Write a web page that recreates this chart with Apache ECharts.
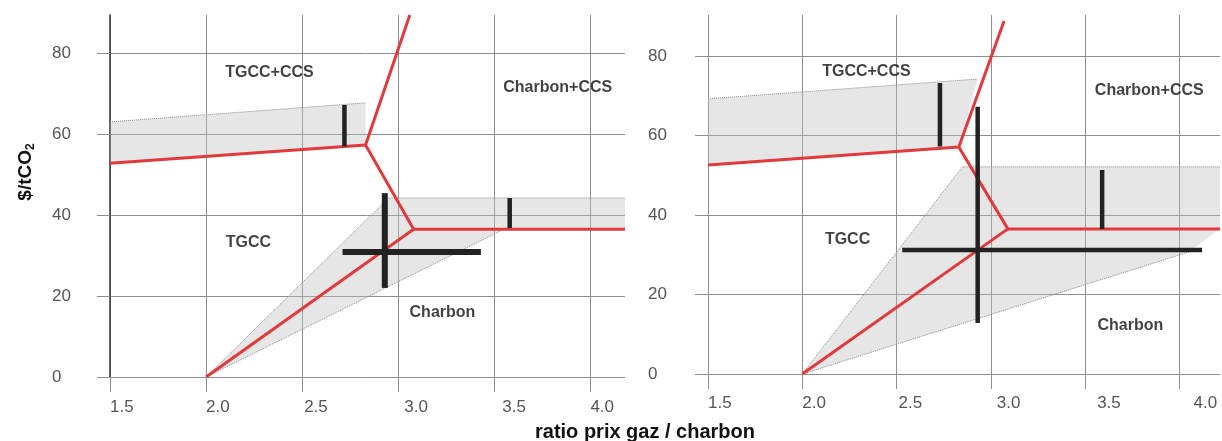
<!DOCTYPE html>
<html><head><meta charset="utf-8">
<script src="https://cdn.jsdelivr.net/npm/echarts@6/dist/echarts.min.js"></script>
<style>html,body{margin:0;padding:0;background:#fff}#c{width:1222px;height:441px}</style>
</head><body><div id="c"></div><script>
// ---- ticks ----
const xTicks = [1.5, 2.0, 2.5, 3.0, 3.5, 4.0];
const xTickLabels = ['1.5', '2.0', '2.5', '3.0', '3.5', '4.0'];
const yTicks = [0, 20, 40, 60, 80];
const yTickLabels = ['0', '20', '40', '60', '80'];

// ---- left panel ----
const leftRedA = [[1.5, 52.8], [2.83, 57.3], [3.06, 89.4]];
const leftRedB = [[2.83, 57.3], [3.08, 36.5], [4.18, 36.5]];
const leftRedC = [[2.0, 0], [3.08, 36.5]];
const leftBandUpper = [[1.5, 52.8], [2.83, 57.3], [2.83, 67.7], [1.5, 63.0]];
const leftBandLower = [[2.0, 0], [3.55, 36.5], [4.18, 36.5], [4.18, 44.2], [2.95, 44.2]];
const leftEdgeUpper = [[1.5, 63.0], [2.83, 67.7]];
const leftEdgeLower = [[3.55, 36.5], [2.0, 0], [2.95, 44.2], [4.18, 44.2]];
const leftBarsThin = [[[2.72, 56.9], [2.72, 67.2]], [[3.58, 36.8], [3.58, 44.2]]];
const leftBarsThick = [[[2.93, 22], [2.93, 45.4]], [[2.71, 30.9], [3.43, 30.9]]];
const leftLabels = [['TGCC+CCS', 2.33, 75.1], ['Charbon+CCS', 3.83, 71.4], ['TGCC', 2.22, 33.3], ['Charbon', 3.23, 15.8]];

// ---- right panel ----
const rightRedA = [[1.5, 52.6], [2.83, 57.1], [3.07, 88.8]];
const rightRedB = [[2.83, 57.1], [3.09, 36.5], [4.215, 36.5]];
const rightRedC = [[2.0, 0], [3.09, 36.5]];
const rightBandUpper = [[1.5, 52.6], [2.83, 57.1], [2.93, 74.2], [1.5, 69.2]];
const rightBandLower = [[2.0, 0], [4.05, 30.7], [4.215, 36.5], [4.215, 52.1], [2.85, 52.1]];
const rightEdgeUpper = [[1.5, 69.2], [2.93, 74.2]];
const rightEdgeLower = [[4.05, 30.7], [2.0, 0], [2.85, 52.1], [4.215, 52.1]];
const rightBarsThin = [[[2.73, 57.2], [2.73, 73.2]], [[3.59, 36.5], [3.59, 51.3]], [[2.93, 12.8], [2.93, 67.2]], [[2.53, 31.2], [4.12, 31.2]]];
const rightLabels = [['TGCC+CCS', 2.34, 76.0], ['Charbon+CCS', 3.84, 71.2], ['TGCC', 2.24, 33.7], ['Charbon', 3.74, 12.3]];

// ---- styles ----
const gridColor = '#8f8f8f';
const red = '#e03a3c';
const bandFill = 'rgba(190,190,190,0.38)';
const leftXOff = [0, 0, 2, 6, 8, 0];
const rightXOff = [0, 0, 2, 6, 12, 14];

function xAxisFor(gi, max, margin, offs) {
  const rich = {};
  offs.forEach((o, i) => { rich['o' + i] = { padding: [0, 0, 0, o], fontSize: 17, color: '#555', fontFamily: 'Liberation Sans, Arial, sans-serif' }; });
  return {
    gridIndex: gi, type: 'value', min: 1.5, max: max,
    axisLine: { show: false },
    axisTick: { show: true, customValues: xTicks, length: 15, lineStyle: { color: gridColor } },
    axisLabel: {
      customValues: xTicks, align: 'left', margin: margin, rich: rich,
      formatter: function (v) {
        let i = xTicks.findIndex(t => Math.abs(t - v) < 1e-6);
        if (i < 0) return '';
        return '{o' + i + '|' + xTickLabels[i] + '}';
      }
    },
    splitLine: { show: true, lineStyle: { color: gridColor, width: 1 } }
  };
}
function yAxisFor(gi, max, margin, showLine) {
  return {
    gridIndex: gi, type: 'value', min: 0, max: max,
    axisLine: { show: showLine, onZero: false, lineStyle: { color: '#333', width: 1.5 } },
    axisTick: { show: true, customValues: yTicks, length: 13, lineStyle: { color: gridColor } },
    axisLabel: {
      customValues: yTicks, align: 'left', margin: margin, fontSize: 17, color: '#555',
      fontFamily: 'Liberation Sans, Arial, sans-serif',
      formatter: function (v) { let i = yTicks.indexOf(v); return i < 0 ? '' : yTickLabels[i]; }
    },
    splitLine: { show: true, lineStyle: { color: gridColor, width: 1 } }
  };
}
function poly(pts, gi) {
  return {
    type: 'custom', xAxisIndex: gi, yAxisIndex: gi, silent: true, z: 1,
    data: [pts[0]],
    renderItem: function (params, api) {
      return { type: 'polygon', shape: { points: pts.map(p => api.coord(p)) }, style: { fill: bandFill } };
    }
  };
}
function line(pts, gi, color, width, type, z) {
  return {
    type: 'line', xAxisIndex: gi, yAxisIndex: gi, data: pts, symbol: 'none', silent: true, z: z,
    lineStyle: { color: color, width: width, type: type || 'solid', cap: 'butt' }
  };
}
function labels(arr, gi) {
  return {
    type: 'scatter', xAxisIndex: gi, yAxisIndex: gi, symbolSize: 1, silent: true, z: 10,
    itemStyle: { color: 'transparent' },
    data: arr.map(l => ({ value: [l[1], l[2]], name: l[0] })),
    label: { show: true, position: 'inside', formatter: '{b}', fontWeight: 'bold', fontSize: 16, color: '#111', fontFamily: 'Liberation Sans, Arial, sans-serif' }
  };
}

const series = [];
// left
series.push(poly(leftBandUpper, 0), poly(leftBandLower, 0));
series.push(line(leftEdgeUpper, 0, '#888', 1, 'dotted', 2), line(leftEdgeLower, 0, '#888', 1, 'dotted', 2));
series.push(line(leftRedA, 0, red, 3, 'solid', 4), line(leftRedB, 0, red, 3, 'solid', 4), line(leftRedC, 0, red, 3, 'solid', 4));
leftBarsThin.forEach(b => series.push(line(b, 0, '#222', 4.5, 'solid', 5)));
leftBarsThick.forEach(b => series.push(line(b, 0, '#222', 6, 'solid', 5)));
series.push(labels(leftLabels, 0));
// right
series.push(poly(rightBandUpper, 1), poly(rightBandLower, 1));
series.push(line(rightEdgeUpper, 1, '#888', 1, 'dotted', 2), line(rightEdgeLower, 1, '#888', 1, 'dotted', 2));
series.push(line(rightRedA, 1, red, 3, 'solid', 4), line(rightRedB, 1, red, 3, 'solid', 4), line(rightRedC, 1, red, 3, 'solid', 4));
rightBarsThin.forEach(b => series.push(line(b, 1, '#222', 4.5, 'solid', 5)));
series.push(labels(rightLabels, 1));

const chart = echarts.init(document.getElementById('c'), null, { renderer: 'canvas' });
chart.setOption({
  animation: false,
  backgroundColor: '#fff',
  grid: [
    { left: 110, top: 15, width: 515, height: 362 },
    { left: 708, top: 15, width: 512, height: 359 }
  ],
  xAxis: [xAxisFor(0, 4.18, 22, leftXOff), xAxisFor(1, 4.215, 21, rightXOff)],
  yAxis: [yAxisFor(0, 89.4, 58, true), yAxisFor(1, 90.3, 60, false)],
  graphic: [
    {
      type: 'text', x: 26, y: 172, rotation: Math.PI / 2,
      style: {
        text: '{a|$/tCO}{s|2}', align: 'center', verticalAlign: 'middle',
        rich: {
          a: { fontSize: 19, fontWeight: 'bold', fill: '#111', fontFamily: 'Liberation Sans, Arial, sans-serif' },
          s: { fontSize: 12, fontWeight: 'bold', fill: '#111', fontFamily: 'Liberation Sans, Arial, sans-serif', padding: [9, 0, 0, 0] }
        }
      }
    },
    {
      type: 'text', x: 645, y: 432,
      style: { text: 'ratio prix gaz / charbon', align: 'center', verticalAlign: 'middle', fontSize: 20, fontWeight: 'bold', fill: '#111', fontFamily: 'Liberation Sans, Arial, sans-serif' }
    }
  ],
  series: series
});
</script></body></html>
